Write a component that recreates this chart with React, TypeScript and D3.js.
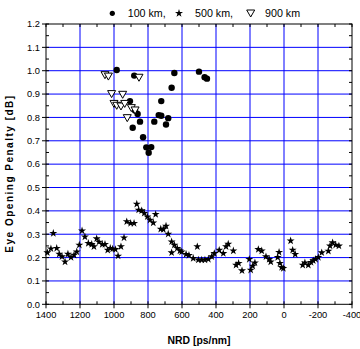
import React from "react";
import * as d3 from "d3";

// ---- data ----
const nrd100 = [984, 881, 645, 500, 467, 453, 661, 906, 722, 876, 861, 737, 722, 681, 847, 763, 694, 890, 829, 810, 781, 796];
const eop100 = [1.003, 0.979, 0.99, 0.996, 0.972, 0.966, 0.927, 0.87, 0.87, 0.83, 0.815, 0.81, 0.807, 0.797, 0.782, 0.782, 0.77, 0.756, 0.715, 0.672, 0.673, 0.649];

const nrd900 = [1053, 1033, 853, 1014, 949, 1000, 984, 959, 937, 898, 876, 922];
const eop900 = [0.983, 0.977, 0.972, 0.902, 0.899, 0.86, 0.852, 0.849, 0.86, 0.842, 0.832, 0.799];

const nrd500 = [
  1392, 1371, 1357, 1337, 1322, 1306, 1288, 1271, 1253, 1235, 1219, 1204, 1188, 1171, 1151, 1131, 1118, 1102, 1088, 1069,
  1053, 1037, 1022, 1008, 992, 976, 959, 941, 925, 902, 882, 866, 855, 837, 822, 804, 788, 769, 755, 725,
  710, 694, 681, 661, 661, 645, 628, 612, 602, 576, 559, 534, 510, 504, 484, 465, 445, 425, 410, 381,
  357, 341, 328, 298, 282, 267, 247, 204, 196, 184, 171, 151, 131, 106, 87, 78, 37, 29, 24, 14,
  4, -39, -51, -66, -110, -123, -143, -159, -172, -186, -202, -222, -261, -271, -286, -304, -323,
];
const eop500 = [
  0.221, 0.238, 0.304, 0.24, 0.215, 0.204, 0.182, 0.215, 0.201, 0.211, 0.225, 0.254, 0.315, 0.289, 0.261, 0.257, 0.247, 0.281, 0.267, 0.257,
  0.257, 0.232, 0.24, 0.237, 0.235, 0.207, 0.247, 0.285, 0.354, 0.347, 0.347, 0.429, 0.404, 0.401, 0.39, 0.375, 0.361, 0.349, 0.385, 0.322,
  0.321, 0.335, 0.301, 0.268, 0.221, 0.254, 0.24, 0.229, 0.225, 0.214, 0.21, 0.197, 0.247, 0.19, 0.19, 0.19, 0.193, 0.204, 0.218, 0.232,
  0.218, 0.247, 0.258, 0.229, 0.168, 0.176, 0.144, 0.193, 0.147, 0.164, 0.178, 0.235, 0.229, 0.204, 0.193, 0.182, 0.201, 0.223, 0.176, 0.158,
  0.154, 0.272, 0.232, 0.214, 0.168, 0.178, 0.168, 0.18, 0.187, 0.193, 0.201, 0.221, 0.228, 0.25, 0.264, 0.254, 0.25,
];

const xTicks = [1400, 1200, 1000, 800, 600, 400, 200, 0, -200, -400];
const yTicks = [0, 0.1, 0.2, 0.3, 0.4, 0.5, 0.6, 0.7, 0.8, 0.9, 1.0, 1.1, 1.2];
const legendLabels = ["100 km,", "500 km,", "900 km"];

const W = 360;
const H = 349;
const L = 46, R = 352, T = 24, B = 304.3;

export default function App() {
  const x = d3.scaleLinear().domain([1400, -400]).range([L, R]);
  const y = d3.scaleLinear().domain([0, 1.2]).range([B, T]);
  const star = d3.symbol().type(d3.symbolStar).size(20)() as string;
  const tri = "M-4,-3L4,-3L0,4Z";
  const font = "Arial, 'Liberation Sans', sans-serif";

  const minorX = d3.range(1300, -400, -200);
  const minorY = d3.range(0.05, 1.2, 0.1);
  const gridX = xTicks.filter((v) => v !== 1400 && v !== -400);
  const gridY = yTicks.filter((v) => v !== 0 && v !== 1.2);

  return (
    <svg width={W} height={H} style={{ position: "absolute", left: 0, top: 0, background: "#fff" }} fontFamily={font}>
      <rect width={W} height={H} fill="#fff" />
      {/* grid */}
      {gridX.map((v) => (
        <line key={"gx" + v} x1={x(v)} x2={x(v)} y1={T} y2={B} stroke="#0000ff" strokeWidth={1} />
      ))}
      {gridY.map((v) => (
        <line key={"gy" + v} x1={L} x2={R} y1={y(v)} y2={y(v)} stroke="#0000ff" strokeWidth={1} />
      ))}
      {/* frame */}
      <rect x={L} y={T} width={R - L} height={B - T} fill="none" stroke="#000" strokeWidth={1} />
      {/* ticks */}
      {xTicks.map((v) => (
        <g key={"xt" + v}>
          <line x1={x(v)} x2={x(v)} y1={B - 3} y2={B + 4} stroke="#000" />
          <line x1={x(v)} x2={x(v)} y1={T} y2={T + 3} stroke="#000" />
          <text x={x(v)} y={318} fontSize={9.3} textAnchor="middle" fill="#000">{v}</text>
        </g>
      ))}
      {minorX.map((v) => (
        <g key={"mx" + v}>
          <line x1={x(v)} x2={x(v)} y1={B - 3} y2={B} stroke="#000" />
          <line x1={x(v)} x2={x(v)} y1={T} y2={T + 3} stroke="#000" />
        </g>
      ))}
      {yTicks.map((v) => (
        <g key={"yt" + v}>
          <line x1={L - 4} x2={L + 3} y1={y(v)} y2={y(v)} stroke="#000" />
          <line x1={R - 3} x2={R} y1={y(v)} y2={y(v)} stroke="#000" />
          <text x={40} y={y(v) + 3.3} fontSize={9.3} textAnchor="end" fill="#000">{d3.format(".1f")(v)}</text>
        </g>
      ))}
      {minorY.map((v) => (
        <g key={"my" + v}>
          <line x1={L} x2={L + 3} y1={y(v)} y2={y(v)} stroke="#000" />
          <line x1={R - 3} x2={R} y1={y(v)} y2={y(v)} stroke="#000" />
        </g>
      ))}
      {/* data */}
      {nrd500.map((v, i) => (
        <path key={"s" + i} d={star} transform={`translate(${x(v)},${y(eop500[i])})`} fill="#000" />
      ))}
      {nrd100.map((v, i) => (
        <circle key={"c" + i} cx={x(v)} cy={y(eop100[i])} r={3.2} fill="#000" />
      ))}
      {nrd900.map((v, i) => (
        <path key={"t" + i} d={tri} transform={`translate(${x(v)},${y(eop900[i])})`} fill="#fff" stroke="#000" strokeWidth={1} />
      ))}
      {/* legend */}
      <circle cx={112.3} cy={13.3} r={2.6} fill="#000" />
      <text x={127.7} y={17.2} fontSize={10.7} fill="#000">{legendLabels[0]}</text>
      <path d={star} transform="translate(179,13.3)" fill="#000" />
      <text x={195} y={17.2} fontSize={10.7} fill="#000">{legendLabels[1]}</text>
      <path d={tri} transform="translate(250.7,13)" fill="#fff" stroke="#000" />
      <text x={265} y={17.2} fontSize={10.7} fill="#000">{legendLabels[2]}</text>
      {/* titles */}
      <text x={199} y={344} fontSize={10.4} fontWeight="bold" textAnchor="middle" fill="#000">NRD [ps/nm]</text>
      <text transform="translate(13,173.5) rotate(-90)" fontSize={10} fontWeight="bold" letterSpacing={1.5} textAnchor="middle" fill="#000">Eye Opening Penalty [dB]</text>
    </svg>
  );
}
